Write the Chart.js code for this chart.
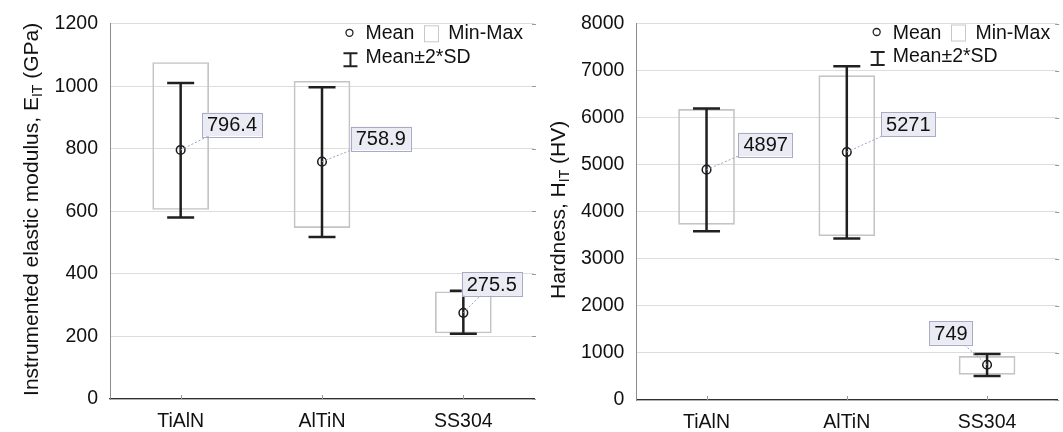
<!DOCTYPE html>
<html>
<head>
<meta charset="utf-8">
<script src="https://cdn.jsdelivr.net/npm/chart.js@4.4.1/dist/chart.umd.min.js"></script>
<style>
    html, body { margin: 0; padding: 0; background: #fff; }
    #wrap { position: relative; width: 1063px; height: 432px; overflow: hidden; }
    .pane { position: absolute; top: 0; height: 432px; }
    #left { left: 0; width: 540px; }
    #right { left: 530px; width: 533px; }
</style>
</head>
<body>
<div id="wrap">
    <div class="pane" id="left"><canvas id="modulusChart"></canvas></div>
    <div class="pane" id="right"><canvas id="hardnessChart"></canvas></div>
</div>
<script>
const categories = ['TiAlN', 'AlTiN', 'SS304'];

// Elastic modulus (GPa)
const modulusMean = [796.4, 758.9, 275.5];
const modulusMin = [606, 548, 211];
const modulusMax = [1076, 1016, 343];
const modulusSdLow = [580, 518, 209];
const modulusSdHigh = [1010, 997, 346];
const modulusTicks = [0, 200, 400, 600, 800, 1000, 1200];

// Hardness (HV)
const hardnessMean = [4897, 5271, 749];
const hardnessMin = [3734, 3491, 545];
const hardnessMax = [6178, 6896, 928];
const hardnessSdLow = [3587, 3435, 509];
const hardnessSdHigh = [6199, 7093, 978];
const hardnessTicks = [0, 1000, 2000, 3000, 4000, 5000, 6000, 7000, 8000];

const FONT = '"Liberation Sans", Arial, sans-serif';
const font = (px) => `${px}px ${FONT}`;

/**
 * Whiskers (mean +/- 2*SD), value labels and the little extra ticks.
 */
const boxExtras = {
    id: 'boxExtras',
    afterDatasetsDraw(chart, args, opts) {
        const { ctx, chartArea, scales } = chart;
        const x = scales.x, y = scales.y;
        ctx.save();

        // small ticks: categories (inside, up from axis) and right edge stubs
        ctx.strokeStyle = '#9a9a9a';
        ctx.lineWidth = 1;
        categories.forEach((c, i) => {
            const px = Math.round(x.getPixelForValue(i)) + 0.5;
            ctx.beginPath();
            ctx.moveTo(px, chartArea.bottom);
            ctx.lineTo(px, chartArea.bottom - 4);
            ctx.stroke();
        });
        opts.ticks.forEach(v => {
            const py = Math.round(y.getPixelForValue(v)) + 0.5;
            ctx.beginPath();
            ctx.moveTo(chartArea.right - 2, py);
            ctx.lineTo(chartArea.right + 2, py);
            ctx.stroke();
        });

        // whiskers
        ctx.strokeStyle = '#202020';
        ctx.lineWidth = 2.5;
        opts.low.forEach((lo, i) => {
            const px = x.getPixelForValue(i);
            const y1 = y.getPixelForValue(lo), y2 = y.getPixelForValue(opts.high[i]);
            ctx.beginPath();
            ctx.moveTo(px, y1); ctx.lineTo(px, y2);
            ctx.moveTo(px - 13.5, y1); ctx.lineTo(px + 13.5, y1);
            ctx.moveTo(px - 13.5, y2); ctx.lineTo(px + 13.5, y2);
            ctx.stroke();
        });

        // value labels with dotted leader
        const meta = chart.getDatasetMeta(1);
        const values = chart.data.datasets[1].data;
        ctx.font = font(20);
        meta.data.forEach((pt, i) => {
            const text = values[i].toFixed(opts.decimals);
            const w = ctx.measureText(text).width + 10;
            const h = 23.5;
            const bx = pt.x + opts.offsets[i][0];
            const by = pt.y + opts.offsets[i][1];

            ctx.save();
            ctx.strokeStyle = '#a0a0c0';
            ctx.lineWidth = 1;
            ctx.setLineDash([2, 2]);
            ctx.beginPath();
            ctx.moveTo(pt.x, pt.y);
            ctx.lineTo(bx + w / 2, by + h / 2);
            ctx.stroke();
            ctx.restore();

            ctx.fillStyle = '#ebebf4';
            ctx.fillRect(bx, by, w, h);
            ctx.strokeStyle = '#a9a9c8';
            ctx.lineWidth = 1;
            ctx.strokeRect(Math.round(bx) + 0.5, Math.round(by) + 0.5, Math.round(w), Math.round(h));
            ctx.fillStyle = '#111';
            ctx.textBaseline = 'middle';
            ctx.textAlign = 'left';
            ctx.fillText(text, bx + 5, by + h / 2 + 1);
        });
        ctx.restore();
    },

    afterDraw(chart, args, opts) {
        const { ctx, chartArea } = chart;
        ctx.save();

        // legend in the top right corner
        ctx.font = font(19.5);
        ctx.fillStyle = '#111';
        ctx.textBaseline = 'alphabetic';
        const wMean = ctx.measureText('Mean').width;
        const wRange = ctx.measureText('Min-Max').width;
        const rangeX = chartArea.right - opts.legendPad - wRange;
        const boxX = rangeX - 10 - 14;
        const textX = boxX - 10 - wMean;
        const row1 = opts.legendRows[0], row2 = opts.legendRows[1];

        ctx.strokeStyle = '#222';
        ctx.lineWidth = 1.3;
        ctx.beginPath();
        ctx.arc(textX - 16, row1 - 6.5, 3.5, 0, Math.PI * 2);
        ctx.stroke();
        ctx.fillText('Mean', textX, row1);
        ctx.strokeStyle = '#c8c8c8';
        ctx.lineWidth = 1;
        ctx.strokeRect(Math.round(boxX) + 0.5, row1 - 13.5, 14, 16);
        ctx.fillText('Min-Max', rangeX, row1);

        const ix = textX - 15;
        ctx.strokeStyle = '#222';
        ctx.lineWidth = 2;
        ctx.beginPath();
        ctx.moveTo(ix, row2 - 10); ctx.lineTo(ix, row2 + 3);
        ctx.moveTo(ix - 7, row2 - 10); ctx.lineTo(ix + 7, row2 - 10);
        ctx.moveTo(ix - 7, row2 + 3); ctx.lineTo(ix + 7, row2 + 3);
        ctx.stroke();
        ctx.fillText('Mean\u00B12*SD', textX, row2);

        // rotated axis title with subscript
        ctx.translate(opts.titleX, (chartArea.top + chartArea.bottom) / 2 - 2);
        ctx.rotate(-Math.PI / 2);
        const parts = opts.title;
        let total = 0;
        parts.forEach(p => {
            ctx.font = font(p.sub ? 14 : 21);
            p.w = ctx.measureText(p.text).width;
            total += p.w;
        });
        let cx = -total / 2;
        parts.forEach(p => {
            ctx.font = font(p.sub ? 14 : 21);
            ctx.fillText(p.text, cx, p.sub ? 11.5 : 7.5);
            cx += p.w;
        });
        ctx.restore();
    }
};

/**
 * One min-max box chart with mean markers.
 */
function makeBoxChart(canvasId, cfg) {
    const ticks = cfg.ticks;
    return new Chart(document.getElementById(canvasId), {
        type: 'bar',
        data: {
            labels: categories,
            datasets: [{
                type: 'bar',
                data: cfg.min.map((v, i) => [v, cfg.max[i]]),
                backgroundColor: 'rgba(0,0,0,0)',
                borderColor: '#c4c4c4',
                borderWidth: 1,
                borderSkipped: false,
                barThickness: 56,
                order: 2
            }, {
                type: 'line',
                data: cfg.mean,
                showLine: false,
                pointStyle: 'circle',
                pointRadius: 4.3,
                pointBorderWidth: 1.5,
                pointBorderColor: '#1a1a1a',
                pointBackgroundColor: 'rgba(0,0,0,0)',
                order: 1
            }]
        },
        options: {
            responsive: true,
            maintainAspectRatio: false,
            animation: false,
            layout: { padding: { left: 0, right: cfg.padRight, top: 18, bottom: 0 } },
            plugins: {
                legend: { display: false },
                tooltip: { enabled: false },
                boxExtras: {
                    low: cfg.sdLow,
                    high: cfg.sdHigh,
                    ticks: ticks,
                    decimals: cfg.decimals,
                    offsets: cfg.offsets,
                    title: cfg.title,
                    titleX: cfg.titleX,
                    legendPad: cfg.legendPad,
                    legendRows: cfg.legendRows
                }
            },
            scales: {
                x: {
                    afterFit: s => { s.height = cfg.xHeight; },
                    grid: { display: false },
                    border: { display: true, color: '#303030', width: 1.3 },
                    ticks: { color: '#111', font: { family: FONT, size: 19.5 }, padding: 3 }
                },
                y: {
                    min: ticks[0],
                    max: ticks[ticks.length - 1],
                    afterBuildTicks: s => { s.ticks = ticks.map(v => ({ value: v })); },
                    afterFit: s => { s.width = cfg.yWidth; },
                    grid: { color: '#dddddd', lineWidth: 1, drawTicks: false },
                    border: { display: true, color: '#8c8c8c', width: 1 },
                    ticks: {
                        color: '#111',
                        font: { family: FONT, size: 19.5 },
                        padding: 12,
                        callback: v => String(v)
                    }
                }
            }
        },
        plugins: [boxExtras]
    });
}

makeBoxChart('modulusChart', {
    mean: modulusMean, min: modulusMin, max: modulusMax,
    sdLow: modulusSdLow, sdHigh: modulusSdHigh, ticks: modulusTicks,
    decimals: 1,
    offsets: [[21.3, -37.4], [28.7, -35], [-1.6, -40.5]],
    title: [{ text: 'Instrumented elastic modulus, E' }, { text: 'IT', sub: true }, { text: ' (GPa)' }],
    titleX: 30.4,
    yWidth: 110, xHeight: 33, padRight: 6,
    legendPad: 11, legendRows: [39.3, 63.3]
});

makeBoxChart('hardnessChart', {
    mean: hardnessMean, min: hardnessMin, max: hardnessMax,
    sdLow: hardnessSdLow, sdHigh: hardnessSdHigh, ticks: hardnessTicks,
    decimals: 0,
    offsets: [[31.9, -37], [34.3, -39.6], [-57.8, -43.5]],
    title: [{ text: 'Hardness, H' }, { text: 'IT', sub: true }, { text: ' (HV)' }],
    titleX: 27.2,
    yWidth: 106.4, xHeight: 32, padRight: 2,
    legendPad: 7, legendRows: [38.5, 62]
});
</script>
</body>
</html>
